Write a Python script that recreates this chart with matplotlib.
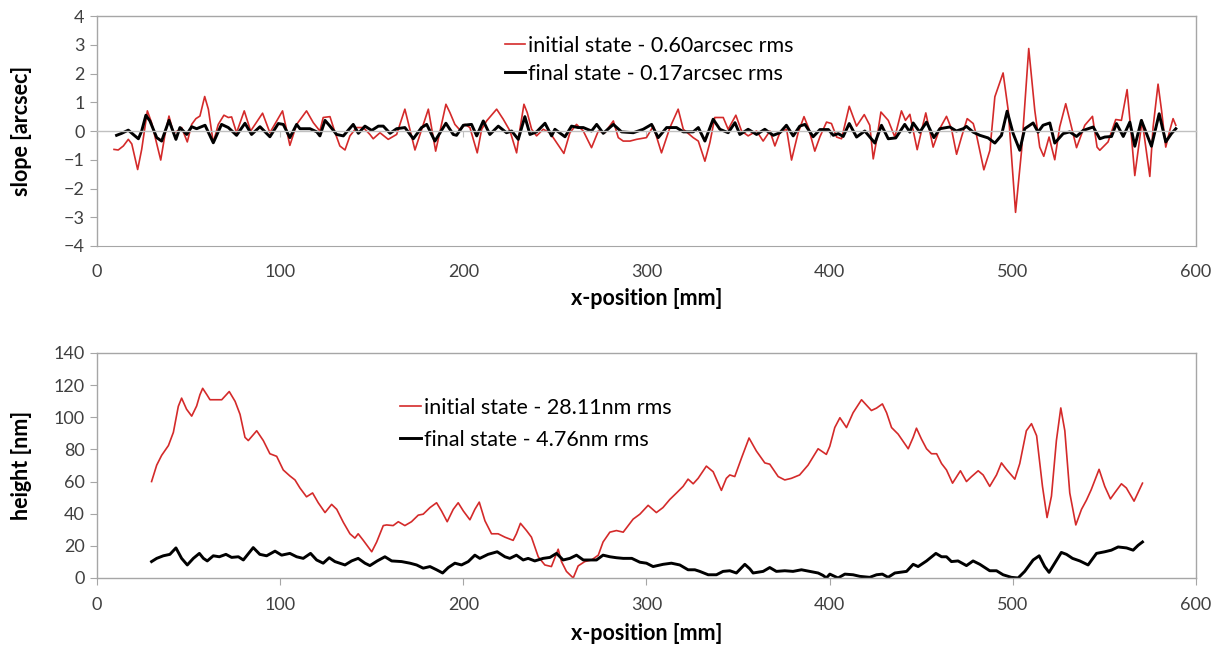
import matplotlib
matplotlib.use("Agg")
import matplotlib.pyplot as plt

plt.rcParams['font.family'] = ['Lato', 'DejaVu Sans']

# slope profile
slope_init_x = [9.3, 11.6, 14.4, 17.1, 19.0, 22.2, 24.4, 27.5, 29.8, 34.8, 37.0, 39.3, 41.7, 44.0, 46.2,
                49.3, 51.7, 54.0, 56.2, 58.8, 60.8, 63.5, 66.2, 69.3, 71.7, 73.5, 76.2, 80.4, 83.9, 90.4,
                94.4, 101.3, 105.3, 109.0, 114.4, 118.1, 121.7, 123.5, 127.2, 130.0, 132.6, 135.4, 138.1,
                141.7, 145.4, 149.0, 150.8, 154.5, 159.0, 163.6, 168.1, 173.6, 180.9, 184.9, 190.5, 192.7,
                195.4, 198.2, 200.9, 203.6, 207.6, 210.0, 212.7, 218.2, 221.8, 225.5, 229.1, 230.9, 233.1,
                234.9, 237.3, 240.0, 243.6, 247.3, 254.9, 258.2, 261.8, 265.5, 270.0, 273.7, 277.3, 281.9,
                284.6, 287.3, 291.0, 294.6, 300.0, 303.7, 308.2, 312.8, 317.3, 320.1, 325.5, 328.3, 331.9,
                334.6, 337.3, 341.9, 344.6, 348.8, 351.9, 355.5, 360.1, 363.7, 367.4, 370.1, 372.8, 376.5,
                379.2, 382.8, 386.0, 388.4, 391.9, 394.7, 398.3, 401.0, 403.8, 406.5, 410.7, 414.7, 418.9,
                421.9, 423.8, 425.6, 428.0, 432.0, 435.6, 439.2, 441.4, 443.8, 447.8, 450.2, 452.5, 456.5,
                460.1, 463.8, 466.5, 469.3, 472.0, 475.1, 478.4, 480.2, 484.2, 487.5, 490.2, 494.7, 497.5,
                501.5, 504.8, 508.7, 512.0, 514.7, 516.9, 519.8, 522.9, 525.6, 528.9, 532.0, 534.8, 539.3,
                543.5, 546.0, 547.5, 552.0, 556.2, 559.3, 562.4, 564.8, 566.6, 570.6, 574.8, 576.6, 579.3,
                581.2, 583.5, 585.7, 587.5, 589.0]
slope_init_y = [-0.64, -0.66, -0.52, -0.29, -0.45, -1.34, -0.64, 0.70, 0.29, -1.01, -0.17, 0.52, -0.06, 0.0,
                0.12, -0.38, 0.23, 0.43, 0.52, 1.20, 0.76, -0.41, 0.23, 0.55, 0.47, 0.49, -0.06, 0.70, 0.0,
                0.62, -0.06, 0.70, -0.50, 0.23, 0.70, 0.29, 0.0, 0.47, 0.50, -0.06, -0.52, -0.66, -0.17,
                0.12, 0.12, -0.12, -0.27, -0.06, -0.29, -0.12, 0.76, -0.66, 0.76, -0.70, 0.93, 0.64, 0.23,
                0.03, 0.23, 0.12, -0.76, 0.06, 0.35, 0.76, 0.41, 0.0, -0.76, 0.06, 0.93, 0.64, 0.06, -0.17,
                0.06, -0.06, -0.78, -0.06, 0.23, 0.0, -0.58, 0.0, -0.06, 0.35, -0.23, -0.35, -0.35, -0.29,
                -0.23, 0.17, -0.76, 0.12, 0.76, 0.06, -0.23, -0.35, -1.05, -0.41, 0.47, 0.47, 0.06, 0.55,
                0.0, -0.17, 0.0, -0.35, 0.0, -0.52, -0.06, 0.06, -1.01, -0.06, 0.50, 0.12, -0.70, -0.20,
                0.31, 0.26, -0.21, -0.27, 0.86, 0.17, 0.57, 0.20, -0.97, -0.33, 0.66, 0.37, -0.21, 0.70,
                0.37, 0.58, -0.65, 0.02, 0.63, -0.56, 0.08, 0.51, 0.08, -0.81, -0.21, 0.43, 0.26, -0.15,
                -1.35, -0.67, 1.19, 2.02, 0.72, -2.83, -0.67, 2.87, 0.72, -0.56, -0.88, -0.21, -1.00, 0.14,
                0.95, 0.14, -0.58, 0.20, 0.51, -0.56, -0.67, -0.38, 0.40, 0.37, 1.44, -0.21, -1.55, 0.37,
                -1.58, 0.14, 1.63, 0.72, -0.56, 0.02, 0.43, 0.20]

slope_final_x = [10.7, 13.5, 17.1, 19.8, 22.6, 24.4, 26.7, 28.9, 32.6, 35.3, 39.3, 43.1, 45.3, 49.0, 51.7,
                 54.4, 59.0, 63.5, 68.0, 71.7, 76.2, 80.8, 84.4, 89.0, 94.4, 99.0, 101.7, 105.3, 109.0,
                 110.8, 116.3, 120.0, 121.7, 124.5, 127.2, 130.8, 134.5, 139.9, 142.7, 146.3, 150.0, 153.6,
                 156.3, 160.0, 163.6, 168.1, 172.7, 177.2, 180.0, 184.5, 190.5, 194.5, 196.3, 200.0, 204.5,
                 207.3, 210.9, 214.5, 219.1, 223.6, 226.4, 230.0, 233.6, 236.4, 240.0, 244.6, 248.2, 250.0,
                 255.5, 259.1, 262.7, 265.5, 270.0, 272.8, 276.4, 281.9, 286.4, 292.8, 298.2, 302.8, 306.4,
                 311.0, 316.4, 320.1, 325.5, 328.3, 331.9, 336.4, 340.1, 344.6, 348.3, 351.0, 355.5, 360.1,
                 364.6, 369.2, 372.8, 376.4, 380.1, 383.7, 386.5, 391.0, 394.7, 399.3, 402.0, 404.7, 407.4,
                 410.7, 414.7, 419.2, 424.7, 428.3, 432.0, 436.1, 441.0, 443.8, 445.6, 449.2, 452.9, 456.9,
                 460.2, 465.6, 469.2, 472.9, 474.7, 478.4, 482.0, 486.5, 490.2, 493.8, 496.9, 500.2, 503.8,
                 506.5, 511.1, 513.8, 516.5, 520.2, 522.9, 527.5, 531.1, 534.8, 538.4, 543.9, 547.5, 550.2,
                 553.9, 556.6, 560.3, 563.9, 566.6, 570.2, 575.7, 579.9, 583.5, 586.6, 589.0]
slope_final_y = [-0.15, -0.08, 0.03, -0.12, -0.27, 0.0, 0.55, 0.35, -0.23, -0.35, 0.37, -0.29, 0.12, -0.12,
                 0.15, 0.08, 0.20, -0.41, 0.23, 0.12, -0.15, 0.27, -0.12, 0.15, -0.20, 0.26, 0.23, -0.23,
                 0.23, 0.08, 0.08, -0.03, -0.17, 0.37, 0.17, -0.12, -0.17, 0.23, -0.08, 0.17, 0.02, 0.17,
                 0.17, -0.08, 0.08, 0.12, -0.27, 0.12, 0.23, -0.35, 0.27, -0.12, -0.15, 0.20, 0.23, -0.17,
                 0.35, -0.12, 0.17, -0.06, 0.0, -0.29, 0.50, -0.12, -0.03, 0.27, -0.17, 0.06, -0.20, 0.17,
                 0.12, 0.12, 0.0, 0.23, -0.08, 0.23, -0.03, -0.06, 0.06, 0.23, -0.23, 0.12, 0.12, -0.03,
                 -0.03, 0.12, -0.35, 0.41, 0.06, -0.06, 0.29, -0.12, 0.06, -0.12, 0.06, -0.15, -0.06, 0.20,
                 -0.17, 0.17, 0.23, -0.20, 0.05, 0.05, -0.15, -0.09, -0.19, 0.26, -0.21, 0.0, -0.42, 0.20,
                 -0.27, -0.24, 0.23, -0.04, 0.28, -0.04, 0.31, -0.23, 0.08, 0.14, 0.0, 0.08, 0.16, -0.04,
                 -0.15, -0.24, -0.42, -0.15, 0.69, -0.09, -0.67, 0.08, 0.28, -0.04, 0.20, 0.28, -0.42,
                 -0.09, -0.03, -0.19, 0.02, 0.14, -0.27, -0.21, -0.19, 0.26, -0.19, 0.31, -0.53, 0.37,
                 -0.53, 0.60, -0.38, -0.09, 0.08]

# height profile
height_init_x = [29.8, 32.6, 35.3, 39.0, 41.7, 44.4, 46.2, 48.9, 51.7, 54.4, 56.2, 57.7, 60.0, 61.7, 64.5,
                 68.1, 72.2, 75.4, 78.1, 80.8, 82.6, 87.2, 90.8, 94.4, 98.1, 101.7, 105.3, 108.1, 110.8,
                 114.4, 117.7, 120.8, 124.5, 128.1, 130.9, 134.5, 138.1, 140.8, 142.6, 145.4, 150.0, 152.7,
                 156.3, 158.1, 161.7, 164.5, 168.1, 171.7, 175.4, 178.1, 181.8, 185.4, 188.1, 191.2, 194.5,
                 197.2, 200.0, 203.6, 206.3, 208.7, 211.8, 215.4, 219.0, 222.7, 227.2, 229.0, 231.2, 234.5,
                 237.2, 240.9, 244.5, 248.1, 251.8, 253.6, 256.3, 260.0, 262.7, 266.3, 270.0, 273.7, 276.3,
                 280.0, 283.6, 287.3, 290.0, 292.7, 296.4, 300.9, 305.4, 309.0, 312.7, 316.4, 320.0, 322.7,
                 325.5, 328.2, 332.7, 336.4, 340.9, 343.6, 345.5, 348.2, 352.0, 356.0, 360.0, 364.6, 367.3,
                 371.9, 375.5, 379.1, 383.6, 388.2, 393.7, 398.2, 400.1, 402.8, 405.6, 409.2, 412.8, 417.4,
                 420.1, 422.8, 425.6, 428.8, 431.1, 433.8, 437.4, 440.1, 442.9, 445.6, 447.4, 450.1, 452.9,
                 455.6, 458.4, 461.1, 463.8, 467.1, 469.3, 471.4, 474.7, 477.4, 481.1, 483.8, 487.4, 491.1,
                 493.8, 496.5, 501.1, 503.8, 507.4, 510.2, 513.0, 516.2, 518.7, 521.1, 523.8, 526.2, 528.4,
                 531.1, 534.4, 537.5, 540.2, 542.8, 547.1, 550.2, 553.3, 555.6, 559.3, 562.0, 566.2, 570.8]
height_init_y = [60.0, 70.2, 76.3, 82.4, 90.6, 106.8, 111.9, 105.0, 100.7, 107.0, 114.0, 118.0, 114.0, 110.9,
                 110.9, 110.9, 116.0, 109.9, 101.8, 87.5, 85.5, 91.6, 85.5, 77.3, 75.7, 67.2, 63.5, 61.0,
                 56.0, 50.5, 52.9, 46.8, 40.7, 45.8, 42.7, 34.6, 27.5, 24.8, 27.5, 23.4, 16.3, 22.4, 32.6,
                 33.0, 32.6, 35.0, 32.6, 35.0, 39.1, 39.7, 43.8, 46.8, 41.7, 35.0, 42.7, 46.8, 41.7, 36.2,
                 42.7, 47.2, 35.6, 27.5, 27.5, 25.4, 23.4, 27.5, 34.0, 29.5, 25.4, 13.2, 8.1, 7.1, 17.9,
                 10.2, 4.1, 0.0, 7.5, 10.2, 11.2, 14.2, 22.4, 28.5, 29.5, 28.5, 32.6, 36.6, 39.7, 45.2,
                 40.7, 43.8, 48.8, 52.9, 57.0, 61.5, 58.6, 62.0, 69.6, 66.1, 54.5, 62.0, 64.1, 63.1, 75.0,
                 87.1, 79.0, 71.6, 70.8, 63.1, 61.0, 62.0, 64.1, 70.2, 80.4, 76.9, 82.0, 93.6, 99.7, 93.6,
                 102.8, 110.9, 107.5, 104.2, 105.7, 108.3, 102.8, 93.6, 89.5, 85.0, 80.4, 87.5, 93.2, 86.5,
                 80.4, 77.3, 77.3, 71.2, 67.2, 59.0, 63.0, 66.7, 60.0, 63.0, 66.7, 64.1, 57.0, 64.1, 71.6,
                 67.6, 61.5, 71.2, 91.6, 96.0, 88.5, 57.0, 37.6, 50.9, 85.5, 105.8, 91.6, 52.9, 33.0, 42.7,
                 48.4, 54.9, 67.6, 57.0, 49.2, 52.9, 58.6, 56.0, 47.8, 59.0]

height_final_x = [29.8, 32.6, 36.2, 39.8, 43.1, 46.2, 49.3, 52.6, 55.9, 58.1, 60.2, 63.5, 66.8, 70.4, 73.5,
                  77.2, 79.9, 85.3, 88.9, 92.6, 97.2, 100.8, 105.3, 109.0, 112.6, 116.6, 119.9, 123.5,
                  126.8, 129.9, 135.4, 139.0, 142.6, 146.3, 149.0, 153.0, 157.2, 160.9, 166.3, 170.9, 174.5,
                  178.1, 181.8, 185.4, 188.7, 191.8, 195.4, 199.0, 202.7, 206.3, 209.0, 213.5, 218.5, 222.7,
                  225.4, 229.0, 232.7, 235.4, 239.0, 243.6, 247.3, 250.9, 254.5, 258.2, 261.8, 265.5, 270.0,
                  272.7, 276.3, 280.0, 283.6, 287.3, 292.0, 296.4, 300.0, 303.6, 309.1, 313.6, 318.2, 322.7,
                  326.4, 329.1, 333.7, 338.2, 341.8, 345.5, 349.1, 353.7, 356.4, 358.2, 363.7, 367.3, 370.9,
                  375.5, 380.0, 384.6, 389.1, 393.7, 396.4, 398.2, 400.1, 404.6, 408.3, 412.8, 416.5, 421.9,
                  425.6, 428.8, 431.9, 435.6, 439.2, 442.0, 445.6, 448.3, 452.9, 458.0, 461.1, 463.8, 466.5,
                  470.1, 474.7, 478.3, 482.0, 487.4, 491.1, 494.7, 499.2, 502.9, 506.5, 511.1, 514.4, 517.4,
                  519.8, 522.9, 526.5, 529.3, 532.6, 536.6, 541.1, 545.7, 550.2, 553.8, 557.5, 562.1, 565.7,
                  568.4, 570.8]
height_final_y = [10.2, 12.2, 13.8, 14.7, 18.7, 12.2, 8.1, 12.2, 15.3, 12.2, 10.6, 13.8, 13.2, 14.7, 12.8,
                  13.2, 11.2, 18.9, 14.7, 13.8, 16.7, 14.2, 15.3, 13.2, 12.2, 15.3, 11.2, 9.2, 12.6, 10.2,
                  8.1, 10.6, 12.2, 9.2, 7.7, 10.6, 13.2, 10.6, 10.2, 9.2, 8.1, 6.1, 7.1, 5.1, 3.1, 6.5, 9.2,
                  8.1, 10.2, 14.2, 12.2, 14.7, 16.3, 13.2, 12.2, 14.2, 11.2, 12.2, 10.6, 12.2, 12.8, 15.3,
                  11.2, 12.2, 14.2, 11.2, 11.2, 11.2, 14.2, 13.2, 12.6, 12.2, 12.2, 9.8, 9.2, 7.1, 8.5, 9.2,
                  8.1, 5.1, 5.1, 4.1, 2.0, 2.0, 4.1, 4.5, 3.1, 8.5, 5.7, 3.1, 4.1, 6.5, 4.1, 4.5, 4.1, 5.1,
                  4.1, 3.1, 1.6, 0.0, 2.4, 0.0, 2.4, 2.0, 1.0, 0.4, 2.0, 2.4, 0.4, 3.1, 3.7, 4.1, 8.5, 7.1,
                  10.6, 15.3, 13.2, 13.2, 10.2, 10.6, 7.7, 10.6, 8.5, 4.5, 4.5, 2.0, 0.4, 0.0, 4.1, 11.2,
                  13.8, 7.1, 3.5, 9.2, 15.9, 14.7, 12.2, 10.6, 8.1, 15.3, 16.3, 17.3, 19.3, 18.7, 17.3,
                  20.3, 22.4]

slope_labels = ['initial state - 0.60arcsec rms', 'final state - 0.17arcsec rms']
height_labels = ['initial state - 28.11nm rms', 'final state - 4.76nm rms']
x_ticks = [0, 100, 200, 300, 400, 500, 600]

red = '#d42a2a'
frame = '#a6a6a6'
txt = '#404040'

fig = plt.figure(figsize=(12.2, 6.46), dpi=100)
ax1 = fig.add_axes([0.0795, 0.6192, 0.9008, 0.356])
ax2 = fig.add_axes([0.0795, 0.1053, 0.9008, 0.3483])


def style(ax):
    for s in ax.spines.values():
        s.set_color(frame)
        s.set_linewidth(1.0)
    ax.tick_params(axis='y', direction='out', length=5, color=frame, labelcolor=txt, labelsize=13, pad=4)
    ax.set_xlim(0, 600)
    ax.set_xticks(x_ticks)


# top panel: slope
ax1.plot(slope_init_x, slope_init_y, color=red, lw=1.2, label=slope_labels[0], solid_joinstyle='round')
ax1.plot(slope_final_x, slope_final_y, color='black', lw=2.1, label=slope_labels[1], solid_joinstyle='round')
style(ax1)
ax1.set_ylim(-4, 4)
ax1.set_yticks(range(-4, 5))
# x axis crosses at 0 with small ticks, labels stay at the bottom
ax1.spines['bottom'].set_position(('data', 0))
ax1.spines['bottom'].set_color('#c0c0c0')
ax1.tick_params(axis='x', direction='out', length=4, color='#c0c0c0', labelbottom=False)
sec = ax1.secondary_xaxis('bottom')
sec.set_xticks(x_ticks)
sec.tick_params(length=0, labelcolor=txt, labelsize=13, pad=13)
sec.spines['bottom'].set_color(frame)
sec.set_xlabel('x-position [mm]', fontsize=15.5, fontweight='bold', color='black', labelpad=6)
ax1.set_ylabel('slope [arcsec]', fontsize=15.5, fontweight='bold')
ax1.yaxis.set_label_coords(-0.059, 0.5)
ax1.legend(loc='upper left', bbox_to_anchor=(0.371, 0.915), frameon=False, fontsize=15.5,
           handlelength=0.95, handletextpad=0.15, labelspacing=0.37, borderpad=0, borderaxespad=0)

# bottom panel: height
ax2.plot(height_init_x, height_init_y, color=red, lw=1.2, label=height_labels[0], solid_joinstyle='round')
ax2.plot(height_final_x, height_final_y, color='black', lw=2.1, label=height_labels[1], solid_joinstyle='round')
style(ax2)
ax2.set_ylim(0, 140)
ax2.set_yticks(range(0, 141, 20))
ax2.tick_params(axis='x', direction='out', length=5, color=frame, labelcolor=txt, labelsize=13, pad=9)
ax2.set_xlabel('x-position [mm]', fontsize=15.5, fontweight='bold', labelpad=7)
ax2.set_ylabel('height [nm]', fontsize=15.5, fontweight='bold')
ax2.yaxis.set_label_coords(-0.059, 0.5)
ax2.legend(loc='upper left', bbox_to_anchor=(0.276, 0.80), frameon=False, fontsize=15.5,
           handlelength=0.95, handletextpad=0.15, labelspacing=0.56, borderpad=0, borderaxespad=0)

fig.savefig('out.png', dpi=100)
